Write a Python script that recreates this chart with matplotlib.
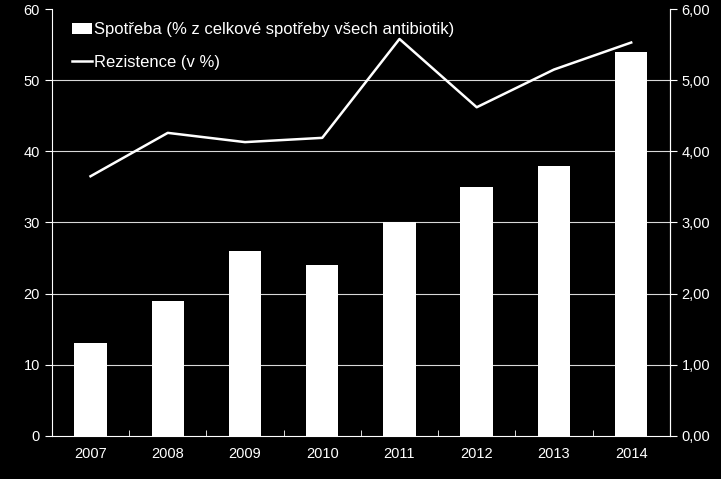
import numpy as np
import matplotlib.pyplot as plt
from matplotlib.ticker import FuncFormatter

years = ['2007', '2008', '2009', '2010', '2011', '2012', '2013', '2014']
spotreba = [13, 19, 26, 24, 30, 35, 38, 54]
rezistence = [3.65, 4.26, 4.13, 4.19, 5.58, 4.62, 5.15, 5.53]

plt.rcParams['font.family'] = ['Liberation Sans', 'DejaVu Sans']

fig = plt.figure(figsize=(7.21, 4.79), dpi=100, facecolor='black')
ax = fig.add_axes([0.072, 0.090, 0.857, 0.891])
ax.set_facecolor('black')
x = np.arange(len(years))

bars = ax.bar(x, spotreba, width=0.42, color='white', zorder=3,
              label='Spotřeba (% z celkové spotřeby všech antibiotik)')
ax.set_ylim(0, 60)
ax.set_yticks(range(0, 61, 10))
ax.set_xlim(-0.5, len(years) - 0.5)
ax.set_xticks(x)
ax.set_xticklabels(years)
ax.set_xticks(np.arange(-0.5, len(years), 1), minor=True)
ax.tick_params(axis='x', which='major', length=0, colors='white', labelsize=10.5, pad=8)
ax.tick_params(axis='x', which='minor', length=4, direction='in', color='white')
ax.tick_params(axis='y', colors='white', labelsize=10.5, length=5, direction='out')
for y in range(10, 60, 10):
    ax.axhline(y, color='#d9d9d9', lw=0.8, zorder=1)

ax.spines['top'].set_visible(False)
for s in ['left', 'bottom', 'right']:
    ax.spines[s].set_color('white')

ax2 = ax.twinx()
ax2.plot(x, rezistence, color='white', lw=1.8, zorder=4, label='Rezistence (v %)')
ax2.set_ylim(0, 6)
ax2.set_yticks(range(0, 7))
ax2.yaxis.set_major_formatter(FuncFormatter(lambda v, p: f'{v:.2f}'.replace('.', ',')))
ax2.tick_params(axis='y', colors='white', labelsize=10.5, length=5, direction='out')
ax2.spines['top'].set_visible(False)
ax2.spines['left'].set_visible(False)
ax2.spines['bottom'].set_visible(False)
ax2.spines['right'].set_color('white')

h1, l1 = ax.get_legend_handles_labels()
h2, l2 = ax2.get_legend_handles_labels()
leg = ax2.legend(h1 + h2, l1 + l2, loc='upper left', frameon=False, fontsize=12,
                 labelcolor='white', handlelength=1.2, handletextpad=0.1,
                 borderaxespad=0, labelspacing=1.05, bbox_to_anchor=(0.022, 0.985))

fig.savefig('out.png', dpi=100, facecolor='black')
